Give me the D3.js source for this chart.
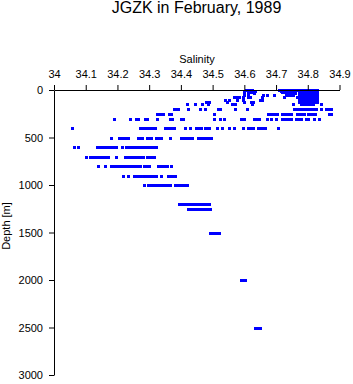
<!DOCTYPE html>
<html lang="en">
<head>
<meta charset="utf-8">
<script src="https://d3js.org/d3.v7.min.js"></script>
<style>
  body { margin: 0; background: white; }
  text { font-family: "Liberation Sans", Arial, sans-serif; fill: black; }
</style>
</head>
<body>
<div id="chart"></div>
<script>

// depth levels of the casts, in metres
var depthLevels = [0, 10, 20, 30, 50, 75, 100, 125, 150, 200, 250, 300, 400, 500,
                   600, 700, 800, 900, 1000, 1200, 1250, 1500, 2000, 2500];

// salinity readings at each depth level (same order as depthLevels)
var salinityByLevel = [
  [34.605, 34.615, 34.625, 34.71, 34.718, 34.725, 34.733, 34.74, 34.748, 34.755, 34.766, 34.772, 34.779, 34.786, 34.793, 34.8, 34.807, 34.814, 34.821, 34.828],
  [34.61, 34.622, 34.635, 34.715, 34.722, 34.73, 34.738, 34.745, 34.752, 34.76, 34.772, 34.779, 34.786, 34.793, 34.8, 34.807, 34.814, 34.821, 34.828],
  [34.6, 34.61, 34.62, 34.72, 34.728, 34.735, 34.742, 34.75, 34.772, 34.779, 34.786, 34.793, 34.8, 34.807, 34.814, 34.821, 34.828],
  [34.61, 34.63, 34.73, 34.738, 34.745, 34.752, 34.76, 34.772, 34.779, 34.786, 34.793, 34.8, 34.807, 34.814, 34.821, 34.828],
  [34.6, 34.612, 34.66, 34.672, 34.695, 34.73, 34.738, 34.746, 34.754, 34.772, 34.779, 34.786, 34.793, 34.8, 34.807, 34.814, 34.821, 34.828],
  [34.566, 34.576, 34.584, 34.595, 34.61, 34.618, 34.655, 34.725, 34.765, 34.772, 34.779, 34.786, 34.793, 34.8, 34.807, 34.814, 34.821, 34.828],
  [34.54, 34.552, 34.578, 34.596, 34.648, 34.656, 34.772, 34.779, 34.786, 34.793, 34.8, 34.807, 34.814, 34.821, 34.828],
  [34.478, 34.488, 34.545, 34.6, 34.62, 34.628, 34.772, 34.779, 34.786, 34.793, 34.8, 34.807, 34.814, 34.821, 34.828],
  [34.42, 34.445, 34.465, 34.485, 34.56, 34.57, 34.625, 34.752, 34.78, 34.787, 34.794, 34.801, 34.808, 34.815, 34.842],
  [34.377, 34.384, 34.391, 34.422, 34.46, 34.476, 34.517, 34.524, 34.572, 34.608, 34.755, 34.762, 34.769, 34.776, 34.783,
   34.79, 34.797, 34.804, 34.811, 34.818, 34.825, 34.843, 34.858, 34.866, 34.872],
  [34.324, 34.331, 34.338, 34.345, 34.363, 34.37, 34.503, 34.676, 34.683, 34.69, 34.697, 34.704, 34.72, 34.727, 34.734,
   34.741, 34.748, 34.767, 34.774, 34.781, 34.788, 34.801, 34.808, 34.815, 34.822, 34.866, 34.873],
  [34.19, 34.24, 34.258, 34.264, 34.287, 34.293, 34.326, 34.366, 34.372, 34.4, 34.408, 34.505, 34.524, 34.536, 34.59,
   34.598, 34.63, 34.638, 34.645, 34.67, 34.685, 34.7, 34.718, 34.725, 34.732, 34.739, 34.746, 34.764, 34.772, 34.778,
   34.794, 34.801, 34.82, 34.836],
  [34.058, 34.272, 34.279, 34.286, 34.29, 34.298, 34.306, 34.313, 34.319, 34.35, 34.357, 34.364, 34.37, 34.377, 34.412,
   34.43, 34.448, 34.455, 34.462, 34.476, 34.483, 34.489, 34.513, 34.53, 34.553, 34.569, 34.596, 34.612, 34.619, 34.626,
   34.644, 34.651, 34.658, 34.665, 34.705],
  [34.18, 34.205, 34.212, 34.219, 34.226, 34.233, 34.264, 34.271, 34.278, 34.292, 34.299, 34.306, 34.322, 34.329, 34.336,
   34.367, 34.401, 34.408, 34.415, 34.422, 34.429, 34.435, 34.455, 34.462, 34.469, 34.476, 34.483, 34.49, 34.495],
  [34.062, 34.077, 34.134, 34.141, 34.148, 34.155, 34.162, 34.169, 34.176, 34.183, 34.19, 34.195, 34.213, 34.227, 34.234,
   34.241, 34.248, 34.255, 34.262, 34.269, 34.276, 34.283, 34.29, 34.297, 34.304, 34.311, 34.318, 34.322],
  [34.102, 34.115, 34.122, 34.129, 34.136, 34.143, 34.15, 34.157, 34.164, 34.17, 34.195, 34.225, 34.232, 34.239, 34.246,
   34.253, 34.26, 34.267, 34.274, 34.28, 34.293, 34.3, 34.307, 34.314],
  [34.14, 34.16, 34.18, 34.187, 34.194, 34.201, 34.208, 34.215, 34.222, 34.229, 34.236, 34.243, 34.25, 34.257, 34.264,
   34.27, 34.284, 34.291, 34.298, 34.328, 34.335, 34.342, 34.349, 34.356, 34.368],
  [34.218, 34.232, 34.253, 34.26, 34.267, 34.274, 34.281, 34.288, 34.295, 34.302, 34.309, 34.316, 34.322, 34.338, 34.36,
   34.367, 34.374, 34.38],
  [34.283, 34.296, 34.303, 34.31, 34.317, 34.324, 34.331, 34.338, 34.345, 34.352, 34.359, 34.366, 34.38, 34.387, 34.394,
   34.401, 34.408, 34.415, 34.42],
  [34.395, 34.402, 34.409, 34.416, 34.423, 34.43, 34.437, 34.444, 34.451, 34.458, 34.465, 34.472, 34.479, 34.486, 34.49],
  [34.423, 34.43, 34.437, 34.444, 34.451, 34.458, 34.465, 34.472, 34.479, 34.486, 34.492],
  [34.493, 34.5, 34.507, 34.514, 34.521],
  [34.59, 34.597, 34.603],
  [34.635, 34.642, 34.648]
];

var salinityTicks = [34, 34.1, 34.2, 34.3, 34.4, 34.5, 34.6, 34.7, 34.8, 34.9];
var depthTicks = [0, 500, 1000, 1500, 2000, 2500, 3000];

var width = 353, height = 384;

var svg = d3.select("#chart").append("svg")
  .attr("width", width)
  .attr("height", height);

var x = d3.scaleLinear().domain([34, 34.9]).range([54, 339.5]);
var y = d3.scaleLinear().domain([0, 3000]).range([90, 375]);

// flatten level table into points
var points = [];
depthLevels.forEach(function (d, i) {
  salinityByLevel[i].forEach(function (s) {
    points.push({ s: s, d: d });
  });
});

svg.append("g")
  .selectAll("rect")
  .data(points)
  .enter().append("rect")
  .attr("x", function (p) { return Math.round(x(p.s)) - 1; })
  .attr("y", function (p) { return Math.round(y(p.d)) - 1; })
  .attr("width", 3)
  .attr("height", 3)
  .attr("fill", "#0000ff");

var xAxis = d3.axisTop(x)
  .tickValues(salinityTicks)
  .tickFormat(d3.format("~g"))
  .tickSizeInner(5)
  .tickSizeOuter(0)
  .tickPadding(7);

var yAxis = d3.axisLeft(y)
  .tickValues(depthTicks)
  .tickFormat(d3.format("d"))
  .tickSizeInner(5)
  .tickSizeOuter(0)
  .tickPadding(6);

svg.append("g")
  .attr("transform", "translate(0,90)")
  .call(xAxis)
  .call(function (g) {
    g.selectAll("text").style("font-size", "11px").attr("font-family", null);
    g.selectAll("line, path").attr("stroke", "black");
  });

svg.append("g")
  .attr("transform", "translate(54,0)")
  .call(yAxis)
  .call(function (g) {
    g.selectAll("text").style("font-size", "11px").attr("font-family", null);
    g.selectAll("line, path").attr("stroke", "black");
  });

svg.append("text")
  .attr("x", 196.5)
  .attr("y", 13)
  .attr("text-anchor", "middle")
  .style("font-size", "16px")
  .text("JGZK in February, 1989");

svg.append("text")
  .attr("x", 197)
  .attr("y", 63)
  .attr("text-anchor", "middle")
  .style("font-size", "11px")
  .text("Salinity");

svg.append("text")
  .attr("transform", "translate(10,226) rotate(-90)")
  .attr("text-anchor", "middle")
  .style("font-size", "11px")
  .text("Depth [m]");

</script>
</body>
</html>
